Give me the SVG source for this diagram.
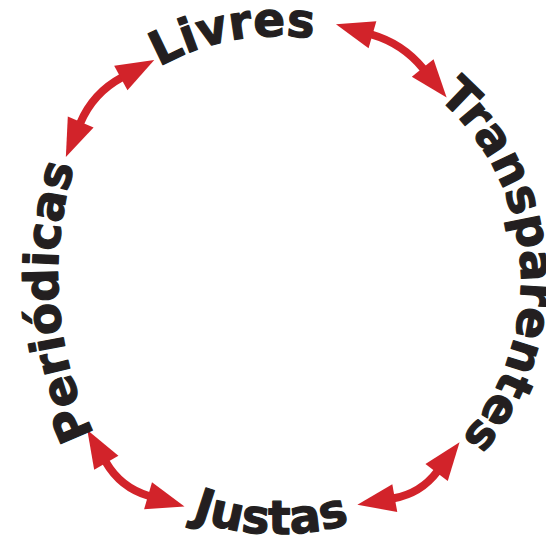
<svg xmlns="http://www.w3.org/2000/svg" width="546" height="544" viewBox="0 0 546 544">
  <style>
    .word { font-family: "DejaVu Sans", "Verdana", sans-serif; font-weight: bold; font-size: 47px; fill: #231f20; stroke: #231f20; stroke-width: 1.2; stroke-linejoin: round; }
    .shaft { fill: none; stroke: #d2232a; stroke-width: 8; }
  </style>
  <defs>
    <marker id="head" viewBox="-4 -16 44 32" markerWidth="44" markerHeight="32" refX="0" refY="0" markerUnits="userSpaceOnUse" orient="auto-start-reverse">
      <polygon points="-1,-14 37,0 -1,14" fill="#d2232a"/>
    </marker>
    <path id="pLivres" d="M48.1,198.1 A244,244 0 0 1 463.8,121.9"/>
    <path id="pTransp" d="M385.7,63.4 A241,241 0 0 1 414.8,479.8"/>
    <path id="pJustas" d="M54.1,400 A254,254 0 0 0 493.9,413.9"/>
    <path id="pPeriod" d="M161.3,529.5 A365,365 0 0 1 126.9,61.5"/>
  </defs>
  <rect width="546" height="544" fill="#ffffff"/>
  <g id="connectors">
    <path class="shaft" d="M371.5,34.5 A104,104 0 0 1 423.3,68.8" marker-start="url(#head)" marker-end="url(#head)"/>
    <path class="shaft" d="M80.3,123 A93,93 0 0 1 121.7,77.5" marker-start="url(#head)" marker-end="url(#head)"/>
    <path class="shaft" d="M437.2,471.7 A70,70 0 0 1 393.8,498.3" marker-start="url(#head)" marker-end="url(#head)"/>
    <path class="shaft" d="M149,496 A74,74 0 0 1 105.8,462" marker-start="url(#head)" marker-end="url(#head)"/>
  </g>
  <g id="livres"><text class="word"><textPath href="#pLivres" startOffset="50%" text-anchor="middle">Livres</textPath></text></g>
  <g id="transparentes"><text class="word"><textPath href="#pTransp" startOffset="50%" text-anchor="middle">Transparentes</textPath></text></g>
  <g id="justas"><text class="word"><textPath href="#pJustas" startOffset="50%" text-anchor="middle">Justas</textPath></text></g>
  <g id="periodicas"><text class="word"><textPath href="#pPeriod" startOffset="50%" text-anchor="middle">Periódicas</textPath></text></g>
</svg>
